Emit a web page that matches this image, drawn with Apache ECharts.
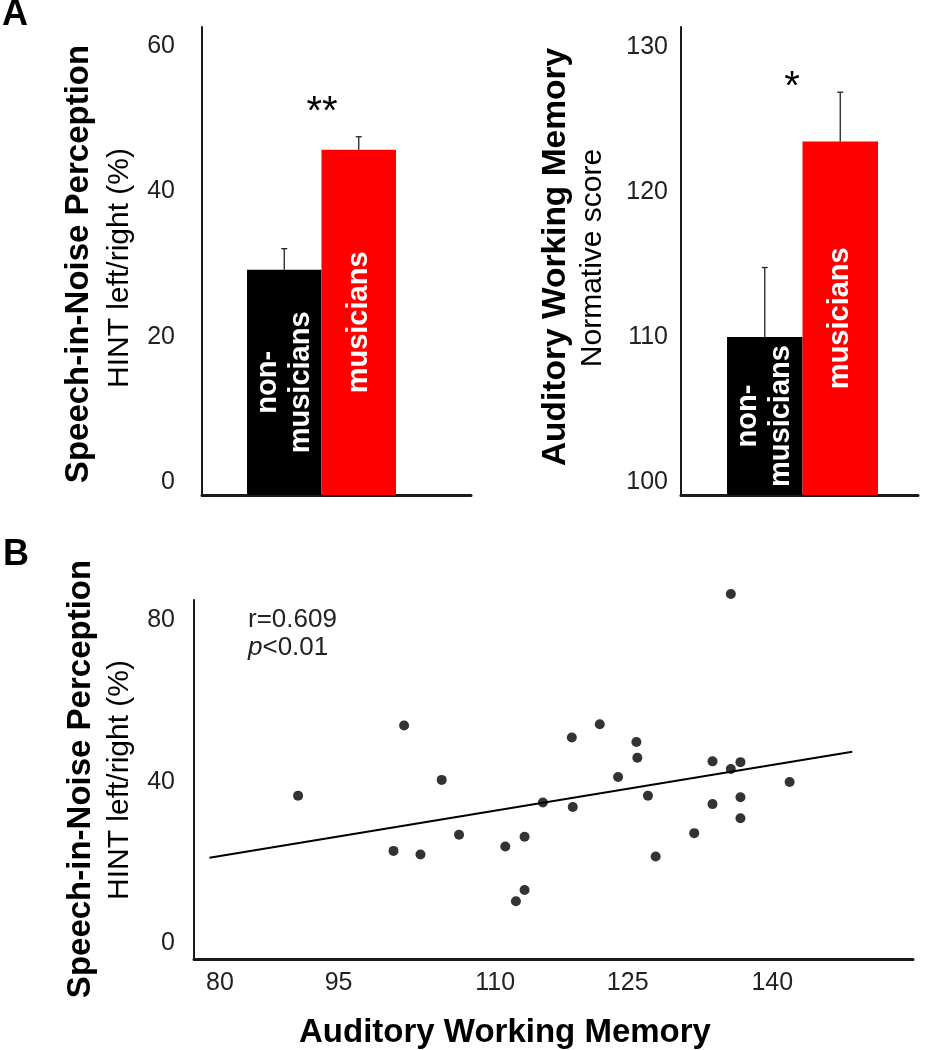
<!DOCTYPE html>
<html>
<head>
<meta charset="utf-8">
<script src="https://cdn.jsdelivr.net/npm/echarts@6/dist/echarts.min.js"></script>
<style>
html,body{margin:0;padding:0;background:#fff;}
#chart{width:932px;height:1050px;}
</style>
</head>
<body>
<div id="chart"></div>
<script>
// ---------- data ----------
const groups = ['non-musicians', 'musicians'];
const groupLabels = ['non-\nmusicians', 'musicians'];
const groupColors = ['#000000', '#ff0000'];

// Panel A left: Speech-in-noise perception, HINT left/right (%)
const hintMeans = [31.0, 47.5];
const hintErrs = [2.9, 1.8];
const hintSig = '**';

// Panel A right: Auditory working memory, normative score
const awmMeans = [110.9, 124.4];
const awmErrs = [4.8, 3.4];
const awmSig = '*';

// Panel B: scatter (x = auditory working memory, y = HINT %)
const awmScores  = [90.8, 101.8, 105.7, 100.7, 103.5, 107.5, 112.3, 114.3, 114.3, 113.4,
                    116.2, 119.2, 119.3, 122.1, 125.9, 126.0, 124.0, 127.1, 127.9, 131.9,
                    133.8, 135.7, 136.7, 133.8, 136.7, 136.7, 141.8, 135.7];
const hintScores = [40.5, 57.9, 44.4, 26.8, 25.9, 30.8, 27.9, 30.3, 17.1, 14.3,
                    38.8, 54.9, 37.7, 58.2, 53.8, 49.9, 45.1, 40.5, 25.4, 31.2,
                    49.0, 47.1, 48.8, 38.4, 40.1, 34.9, 43.9, 90.5];
const fitX = [81.6, 148.3];
const fitY = [25.1, 51.4];
const statR = 'r=0.609';
const statP = 'p<0.01';

// ---------- styling ----------
const FF = '"Liberation Sans", Arial, Helvetica, sans-serif';
const AX = '#1a1a1a';

const chart = echarts.init(document.getElementById('chart'), null, {renderer: 'canvas'});

function barData(means) {
  return means.map((v, i) => ({
    value: v,
    name: groups[i],
    itemStyle: {color: groupColors[i]},
    label: {formatter: groupLabels[i]}
  }));
}
function errData(means, errs) {
  return means.map((v, i) => [i, v, v + errs[i]]);
}
function errRender(params, api) {
  const base = api.coord([api.value(0), api.value(1)]);
  const top = api.coord([api.value(0), api.value(2)]);
  const st = {stroke: '#222', lineWidth: 1.3};
  return {type: 'group', children: [
    {type: 'line', shape: {x1: base[0], y1: base[1], x2: top[0], y2: top[1]}, style: st},
    {type: 'line', shape: {x1: top[0] - 3, y1: top[1], x2: top[0] + 3, y2: top[1]}, style: st}
  ]};
}
const barLabel = {
  show: true, position: 'inside', rotate: 90, align: 'center', verticalAlign: 'middle',
  color: '#fff', fontWeight: 'bold', fontSize: 29, lineHeight: 33, fontFamily: FF
};
function valueY(gridIndex, min, max, interval, margin, shift) {
  return {
    type: 'value', gridIndex: gridIndex, min: min, max: max, interval: interval,
    axisLine: {show: true, lineStyle: {color: AX, width: 2}},
    axisTick: {show: false}, splitLine: {show: false},
    axisLabel: {show: true, margin: margin, fontSize: 25, color: '#222', fontFamily: FF,
                showMaxLabel: false, verticalAlign: 'bottom', lineHeight: shift * 2}
  };
}
function hiddenValue(gridIndex) {
  return {type: 'value', gridIndex: gridIndex, show: false, min: 0, max: 1};
}
function baselineX(gridIndex) {
  return {type: 'value', gridIndex: gridIndex, min: 0, max: 1,
    axisLine: {show: true, onZero: false, lineStyle: {color: AX, width: 3}},
    axisTick: {show: false}, axisLabel: {show: false}, splitLine: {show: false}};
}

const txt = (x, y, text, font, rot, extra) => Object.assign({
  type: 'text', x: x, y: y, rotation: rot || 0, silent: true,
  style: {text: text, font: font, fill: '#000', align: 'center', verticalAlign: 'middle'}
}, extra || {});

const option = {
  backgroundColor: '#fff',
  animation: false,
  grid: [
    {left: 247, top: 27, width: 149, height: 468},   // 0 A-left bars
    {left: 202, top: 27, width: 269, height: 468},   // 1 A-left baseline
    {left: 727, top: 27, width: 151, height: 468},   // 2 A-right bars
    {left: 681, top: 27, width: 237, height: 468},   // 3 A-right baseline
    {left: 194, top: 600, width: 719, height: 359}   // 4 B scatter
  ],
  xAxis: [
    {type: 'category', gridIndex: 0, data: groups, axisLine: {show: false}, axisTick: {show: false}, axisLabel: {show: false}},
    baselineX(1),
    {type: 'category', gridIndex: 2, data: groups, axisLine: {show: false}, axisTick: {show: false}, axisLabel: {show: false}},
    baselineX(3),
    {type: 'value', gridIndex: 4, min: 80, max: 154.6, interval: 15,
     axisLine: {show: true, onZero: false, lineStyle: {color: AX, width: 3}},
     axisTick: {show: false}, splitLine: {show: false},
     axisLabel: {show: true, margin: 12, fontSize: 25, color: '#222', fontFamily: FF, showMaxLabel: false,
       formatter: v => v === 80 ? '{a|80}' : (v === 110 ? '{b|110}' : String(v)),
       rich: {a: {padding: [0, 0, 0, 52], fontSize: 25, color: '#222', fontFamily: FF},
              b: {padding: [0, 0, 0, 24], fontSize: 25, color: '#222', fontFamily: FF}}}}
  ],
  yAxis: [
    Object.assign(valueY(0, 0, 64.4, 20, 27, 13), {offset: 45}),
    hiddenValue(1),
    Object.assign(valueY(2, 100, 132.3, 10, 13, 13), {offset: 46, startValue: 100}),
    hiddenValue(3),
    valueY(4, 0, 89, 40, 19, 16)
  ],
  series: [
    {type: 'bar', xAxisIndex: 0, yAxisIndex: 0, barCategoryGap: '0%', data: barData(hintMeans), label: barLabel},
    {type: 'custom', xAxisIndex: 0, yAxisIndex: 0, data: errData(hintMeans, hintErrs), renderItem: errRender, z: 5},
    {type: 'bar', xAxisIndex: 2, yAxisIndex: 2, barCategoryGap: '0%', data: barData(awmMeans), label: barLabel},
    {type: 'custom', xAxisIndex: 2, yAxisIndex: 2, data: errData(awmMeans, awmErrs), renderItem: errRender, z: 5},
    {type: 'scatter', xAxisIndex: 4, yAxisIndex: 4, symbolSize: 10, clip: false,
     itemStyle: {color: '#000'}, data: awmScores.map((x, i) => [x, hintScores[i]])},
    {type: 'line', xAxisIndex: 4, yAxisIndex: 4, symbol: 'none', clip: false,
     lineStyle: {color: '#000', width: 2}, data: fitX.map((x, i) => [x, fitY[i]])}
  ],
  graphic: [
    txt(15, 15, 'A', 'bold 36px ' + FF),
    txt(16, 555, 'B', 'bold 36px ' + FF),
    txt(79, 264, 'Speech-in-Noise Perception', 'bold 33px ' + FF, Math.PI / 2),
    txt(120, 268, 'HINT left/right (%)', '30px ' + FF, Math.PI / 2),
    txt(556, 257, 'Auditory Working Memory', 'bold 33.5px ' + FF, Math.PI / 2),
    txt(593, 258, 'Normative score', '30px ' + FF, Math.PI / 2),
    txt(81, 779, 'Speech-in-Noise Perception', 'bold 33px ' + FF, Math.PI / 2),
    txt(120, 780, 'HINT left/right (%)', '30px ' + FF, Math.PI / 2),
    txt(505, 1033, 'Auditory Working Memory', 'bold 33px ' + FF),
    txt(322, 113, hintSig, '40px ' + FF),
    txt(792, 88, awmSig, '40px ' + FF),
    {type: 'text', x: 248, y: 620, silent: true,
     style: {text: statR, font: '26px ' + FF, fill: '#222', align: 'left', verticalAlign: 'middle'}},
    {type: 'text', x: 248, y: 648, silent: true,
     style: {text: '{i|' + statP.charAt(0) + '}' + statP.slice(1), font: '26px ' + FF, fill: '#222',
             align: 'left', verticalAlign: 'middle',
             rich: {i: {fontStyle: 'italic', fontSize: 26, fontFamily: FF, fill: '#222'}}}}
  ]
};
chart.setOption(option);
</script>
</body>
</html>
